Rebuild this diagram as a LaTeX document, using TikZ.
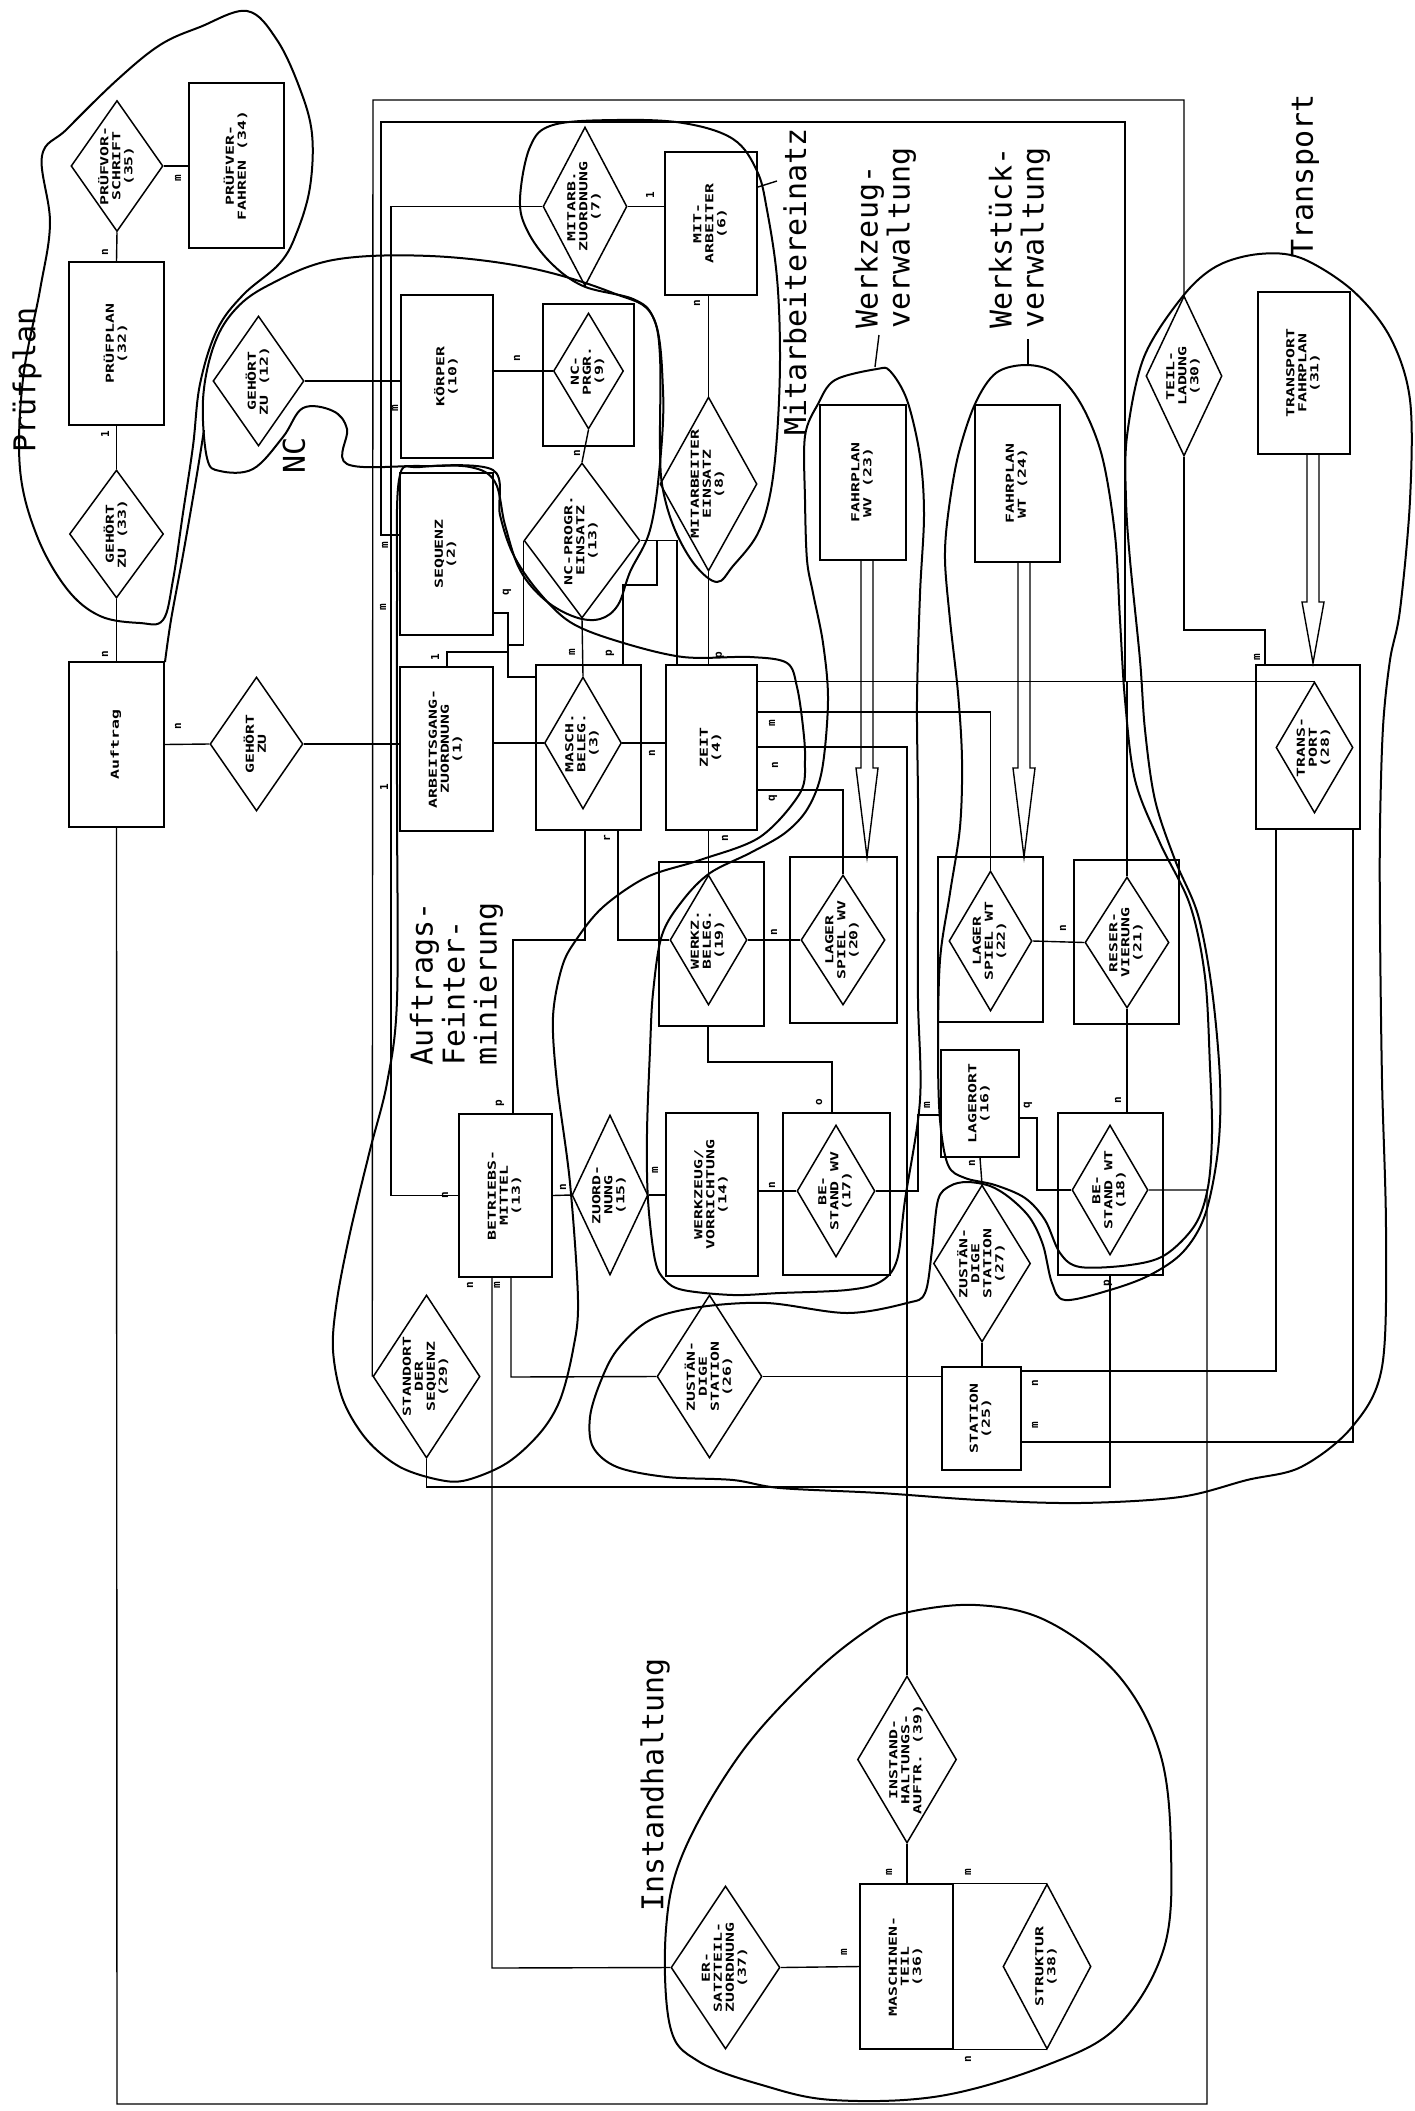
\documentclass[tikz,border=0pt]{standalone}
\usepackage{fontspec}
\usepackage{graphicx}
\usetikzlibrary{shapes.geometric,calc}
\newfontfamily\boxfont{DejaVu Sans Mono}
\newfontfamily\labfont{DejaVu Sans Mono}
\newcommand{\vt}[1]{\rotatebox{90}{\scalebox{1.5}[1]{\begin{tabular}{@{}c@{}}#1\end{tabular}}}}
\newcommand{\dblarrow}[3]{\draw[con] ($(#1 -| #2)+(-6,0)$) -- ($(#2)+(-6,-#3)$) -- ($(#2)+(-11,-#3)$) -- (#2) -- ($(#2)+(11,-#3)$) -- ($(#2)+(6,-#3)$) -- ($(#1 -| #2)+(6,0)$);}
\tikzset{
  ent/.style={draw,rectangle,inner sep=0pt,line width=1.5pt,font=\boxfont\bfseries\fontsize{11}{12}\selectfont},
  rel/.style={draw,diamond,inner sep=0pt,line width=1.5pt},
  txt/.style={inner sep=0pt,font=\boxfont\bfseries\fontsize{11}{12}\selectfont},
  card/.style={inner sep=0pt,rotate=90,font=\boxfont\bfseries\fontsize{11}{12}\selectfont},
  con/.style={line width=1.4pt},
  blob/.style={line width=2pt},
  grp/.style={inner sep=0pt,rotate=90,align=left,font=\labfont\fontsize{30}{32}\selectfont},
}

\begin{document}
\begin{tikzpicture}[x=1pt,y=-1pt]
\fill[white] (0,0) rectangle (1415,2111);
\useasboundingbox (0,0) rectangle (1415,2111);

% Pruefplan
\node[ent,minimum width=95,minimum height=165] (pverf) at (236.5,165.5) {\vt{PRÜFVER-\\FAHREN (34)}};
\node[rel,minimum width=92,minimum height=131] (pvs) at (117,166) {};
\node[txt] (pvsT) at (pvs) {\vt{PRÜFVOR-\\SCHRIFT\\(35)}};
\node[ent,minimum width=95,minimum height=163] (pplan) at (116.5,343.5) {\vt{PRÜFPLAN\\(32)}};
\node[rel,minimum width=94,minimum height=128] (gz33) at (116.5,534) {};
\node[txt] (gz33T) at (gz33) {\vt{GEHÖRT\\ZU (33)}};
\node[ent,minimum width=95,minimum height=165] (auftrag) at (116.5,744.5) {\vt{Auftrag}};
\node[rel,minimum width=93,minimum height=134] (gz) at (256.5,744) {};
\node[txt] (gzT) at (gz) {\vt{GEHÖRT\\ZU}};
\node[rel,minimum width=91,minimum height=130] (gz12) at (258.5,381) {};
\node[txt] (gz12T) at (gz12) {\vt{GEHÖRT\\ZU (12)}};

% NC, Mitarbeiter
\node[ent,minimum width=92,minimum height=163] (koerper) at (447,376.5) {\vt{KÖRPER\\(10)}};
\node[ent,minimum width=91,minimum height=142] (ncprg) at (588.5,375) {};
\node[rel,minimum width=70,minimum height=116] (ncprgD) at (588.5,371) {};
\node[txt] (ncprgT) at (ncprgD) {\vt{NC-\\PRGR.\\(9)}};
\node[rel,minimum width=116,minimum height=155] (ncein) at (582,540.5) {};
\node[txt] (nceinT) at (ncein) {\vt{NC-PROGR.\\EINSATZ\\(13)}};
\node[rel,minimum width=84,minimum height=159] (mzuord) at (585,206.5) {};
\node[txt] (mzuordT) at (mzuord) {\vt{MITARB.\\ZUORDNUNG\\(7)}};
\node[ent,minimum width=92,minimum height=143] (mitarb) at (711,223.5) {\vt{MIT-\\ARBEITER\\(6)}};
\node[rel,minimum width=97,minimum height=174] (meinsatz) at (708.5,484) {};
\node[txt] (meinsatzT) at (meinsatz) {\vt{MITARBEITER\\EINSATZ\\(8)}};

% Auftrags-Feinterminierung
\node[ent,minimum width=93,minimum height=162] (sequenz) at (446.5,554) {\vt{SEQUENZ\\(2)}};
\node[ent,minimum width=93,minimum height=164] (agz) at (446.5,749) {\vt{ARBEITSGANG-\\ZUORDNUNG\\(1)}};
\node[ent,minimum width=105,minimum height=165] (masch) at (588.5,747.5) {};
\node[rel,minimum width=77,minimum height=132] (maschD) at (583,743) {};
\node[txt] (maschT) at (maschD) {\vt{MASCH.\\BELEG.\\(3)}};
\node[ent,minimum width=91,minimum height=165] (zeit) at (711.5,747.5) {\vt{ZEIT\\(4)}};
\node[ent,minimum width=93,minimum height=163] (betr) at (505.5,1195.5) {\vt{BETRIEBS-\\MITTEL\\(13)}};
\node[rel,minimum width=76,minimum height=160] (zuord) at (610,1195) {};
\node[txt] (zuordT) at (zuord) {\vt{ZUORD-\\NUNG\\(15)}};
\node[rel,minimum width=107,minimum height=163] (standort) at (426.5,1376.5) {};
\node[txt] (standortT) at (standort) {\vt{STANDORT\\DER\\SEQUENZ\\(29)}};

% Werkzeug, Werkstueck
\node[ent,minimum width=86,minimum height=155] (fwv) at (863,482.5) {\vt{FAHRPLAN\\WV (23)}};
\node[ent,minimum width=85,minimum height=157] (fwt) at (1017.5,483.5) {\vt{FAHRPLAN\\WT (24)}};
\node[ent,minimum width=105,minimum height=164] (wbeleg) at (711.5,944) {};
\node[rel,minimum width=77,minimum height=130] (wbelegD) at (708.5,940) {};
\node[txt] (wbelegT) at (wbelegD) {\vt{WERKZ.\\BELEG.\\(19)}};
\node[ent,minimum width=107,minimum height=166] (lswv) at (843.5,940) {};
\node[rel,minimum width=84,minimum height=130] (lswvD) at (843,940) {};
\node[txt] (lswvT) at (lswvD) {\vt{LAGER\\SPIEL WV\\(20)}};
\node[ent,minimum width=105,minimum height=165] (lswt) at (990.5,939.5) {};
\node[rel,minimum width=83,minimum height=140] (lswtD) at (990.5,941) {};
\node[txt] (lswtT) at (lswtD) {\vt{LAGER\\SPIEL WT\\(22)}};
\node[ent,minimum width=105,minimum height=164] (reserv) at (1126.5,942) {};
\node[rel,minimum width=84,minimum height=131] (reservD) at (1127,942.5) {};
\node[txt] (reservT) at (reservD) {\vt{RESER-\\VIERUNG\\(21)}};
\node[ent,minimum width=92,minimum height=163] (wzv) at (712,1194.5) {\vt{WERKZEUG/\\VORRICHTUNG\\(14)}};
\node[ent,minimum width=107,minimum height=162] (bwv) at (836.5,1194) {};
\node[rel,minimum width=78,minimum height=132] (bwvD) at (836,1191) {};
\node[txt] (bwvT) at (bwvD) {\vt{BE-\\STAND WV\\(17)}};
\node[ent,minimum width=78,minimum height=107] (lort) at (980,1103.5) {\vt{LAGERORT\\(16)}};
\node[ent,minimum width=105,minimum height=162] (bwt) at (1110.5,1194) {};
\node[rel,minimum width=76,minimum height=130] (bwtD) at (1110,1190) {};
\node[txt] (bwtT) at (bwtD) {\vt{BE-\\STAND WT\\(18)}};

% Transport
\node[rel,minimum width=97,minimum height=157] (zst27) at (982,1263.5) {};
\node[txt] (zst27T) at (zst27) {\vt{ZUSTÄN-\\DIGE\\STATION\\(27)}};
\node[ent,minimum width=79,minimum height=103] (station) at (981.5,1418.5) {\vt{STATION\\(25)}};
\node[rel,minimum width=105,minimum height=163] (zst26) at (709.5,1376.5) {};
\node[txt] (zst26T) at (zst26) {\vt{ZUSTÄN-\\DIGE\\STATION\\(26)}};
\node[rel,minimum width=76,minimum height=160] (teil) at (1184,376) {};
\node[txt] (teilT) at (teil) {\vt{TEIL-\\LADUNG\\(30)}};
\node[ent,minimum width=92,minimum height=162] (tfp) at (1304,373) {\vt{TRANSPORT\\FAHRPLAN\\(31)}};
\node[ent,minimum width=104,minimum height=164] (trans) at (1308,747) {};
\node[rel,minimum width=77,minimum height=131] (transD) at (1314.5,747.5) {};
\node[txt] (transT) at (transD) {\vt{TRANS-\\PORT\\(28)}};

% Instandhaltung
\node[rel,minimum width=99,minimum height=167] (iha) at (907,1759.5) {};
\node[txt] (ihaT) at (iha) {\vt{INSTAND-\\HALTUNGS-\\AUFTR. (39)}};
\node[ent,minimum width=93,minimum height=165] (mteil) at (906.5,1966.5) {\vt{MASCHINEN-\\TEIL\\(36)}};
\node[rel,minimum width=88,minimum height=165] (strukt) at (1047,1966.5) {};
\node[txt] (struktT) at (strukt) {\vt{STRUKTUR\\(38)}};
\node[rel,minimum width=109,minimum height=163] (ersatz) at (725.5,1967.5) {};
\node[txt] (ersatzT) at (ersatz) {\vt{ER-\\SATZTEIL-\\ZUORDNUNG\\(37)}};

% junctions
\coordinate (fo1) at (373,100);
\coordinate (fo2) at (1184,100);
\coordinate (fo3) at (1265,630);
\coordinate (fi1) at (1125,122);
\coordinate (fi2) at (381,122);
\coordinate (fi3) at (381,535);
\coordinate (fm) at (391,209);
\coordinate (zB) at (990.5,712);
\coordinate (zC) at (907,747);
\coordinate (zD) at (843,790);
\coordinate (sq1) at (508,613);
\coordinate (sq2) at (508,677);
\coordinate (ag1) at (447,652);
\coordinate (ne1) at (524,645);
\coordinate (nr1) at (677,540);
\coordinate (np1) at (657,585);
\coordinate (np2) at (623,585);
\coordinate (mb1) at (585,940);
\coordinate (mb2) at (513,940);
\coordinate (mr) at (618,940);
\coordinate (wb1) at (708,1062);
\coordinate (wb2) at (832,1062);
\coordinate (lo1) at (918,1115);
\coordinate (lo2) at (1037,1118);
\coordinate (bs1) at (1110,1487);
\coordinate (bs2) at (426.5,1487);
\coordinate (ts1) at (1276,1371);
\coordinate (ts2) at (1353,1442);
\coordinate (bb1) at (492,1968);
\coordinate (bb2) at (511,1377);
\coordinate (al1) at (117,2104);
\coordinate (al2) at (1207,2104);
\coordinate (awv) at (867,857);
\coordinate (awt) at (1024,857);
\coordinate (atr) at (1313,663);

% connectors
\draw[con] (pvs.east) -- (pvs.east -| pverf.west);
\draw[con] (pvs.south) -- (pplan.north);
\draw[con] (pplan.south) -- (gz33.north);
\draw[con] (gz33.south) -- (auftrag.north);
\draw[con] (auftrag.east) -- (gz.west);
\draw[con] (gz.east) -- (gz.east -| agz.west);
\draw[con] (gz12.east) -- (gz12.east -| koerper.west);
\draw[con] (koerper.east |- ncprgD.west) -- (ncprgD.west);
\draw[con] (ncprgD.south) -- (ncein.north);
\draw[con] (mzuord.east) -- (mzuord.east -| mitarb.west);
\draw[con] (mitarb.south -| meinsatz.north) -- (meinsatz.north);
\draw[con] (meinsatz.south) -- (meinsatz.south |- zeit.north);
\draw[con] (ncein.south) -- (maschD.north);
\draw[con] (agz.east |- maschD.west) -- (maschD.west);
\draw[con] (maschD.east) -- (maschD.east -| zeit.west);
\draw[con] (ncein.east) -- (ncein.east -| nr1) -- (nr1 |- zeit.north);
\draw[con] (np1 |- ncein.east) -- (np1) -- (np2) -- (np2 |- masch.north);
\draw[con] (sq1 -| sequenz.east) -- (sq1) -- (sq2) -- (sq2 -| masch.west);
\draw[con] (ag1 |- agz.north) -- (ag1) -- (ag1 -| sq1);
\draw[con] (ncein.west) -- (ncein.west |- ne1) -- (ne1 -| sq1);
\draw[con] (transD.north -| zeit.east) -- (transD.north);
\draw[con] (zB -| zeit.east) -- (zB) -- (lswtD.north);
\draw[con] (zC -| zeit.east) -- (zC) -- (zC |- iha.north);
\draw[con] (zD -| zeit.east) -- (zD) -- (lswvD.north);
\draw[con] (zeit.south -| wbelegD.north) -- (wbelegD.north);
\draw[con] (mb1 |- masch.south) -- (mb1) -- (mb2) -- (mb2 |- betr.north);
\draw[con] (mr |- masch.south) -- (mr) -- (wbelegD.west);
\draw[con] (wbelegD.east) -- (lswvD.west);
\draw[con] (wb1 |- wbeleg.south) -- (wb1) -- (wb2) -- (wb2 |- bwv.north);
\draw[con] (lswtD.east) -- (reservD.west);
\draw[con] (reservD.north) -- (reservD.north |- transD.north);
\draw[con] (reservD.south) -- (reservD.south |- bwt.north);
\draw[con] (betr.east) -- (zuord.west);
\draw[con] (zuord.east) -- (zuord.east -| wzv.west);
\draw[con] (wzv.east |- bwvD.west) -- (bwvD.west);
\draw[con] (bwvD.east) -- (bwvD.east -| lo1) -- (lo1) -- (lo1 -| lort.west);
\draw[con] (lo2 -| lort.east) -- (lo2) -- (lo2 |- bwtD.west) -- (bwtD.west);
\draw[con] (lort.south) -- (zst27.north);
\draw[con] (zst27.south) -- (station.north -| zst27.south);
\draw[con] (zst26.east) -- (zst26.east -| station.west);
\draw[con] (bs1 |- bwt.south) -- (bs1) -- (bs2) -- (standort.south);
\draw[con] (ts1 |- trans.south) -- (ts1) -- (ts1 -| station.east);
\draw[con] (ts2 |- trans.south) -- (ts2) -- (ts2 -| station.east);
\draw[con] (bb1 |- betr.south) -- (bb1) -- (ersatz.west);
\draw[con] (bb2 |- betr.south) -- (bb2) -- (zst26.west);
\draw[con] (standort.west) -- (fo1) -- (fo2) -- (teil.north);
\draw[con] (teil.south) |- (fo3) -- (fo3 |- trans.north);
\draw[con] (fi1 |- transD.north) -- (fi1) -- (fi2) -- (fi3) -- (fi3 -| sequenz.west);
\draw[con] (mzuord.west) -- (mzuord.west -| fm) -- (fm |- betr.west) -- (betr.west);
\draw[con] (auftrag.south) -- (al1) -- (al2) -- (al2 |- bwtD.east) -- (bwtD.east);
\draw[con] (ersatz.east) -- (mteil.west);
\draw[con] (iha.south) -- (iha.south |- mteil.north);
\draw[con] (mteil.north east) -- (strukt.north);
\draw[con] (mteil.south east) -- (strukt.south);
\dblarrow{fwv.south}{awv}{89}
\dblarrow{fwt.south}{awt}{89}
\dblarrow{tfp.south}{atr}{61}

% cardinalities
\node[card] (k1) at (178,178) {m};
\node[card] (k2) at (105,252) {n};
\node[card] (k3) at (105,434) {1};
\node[card] (k4) at (105,654) {n};
\node[card] (k5) at (178,726) {n};
\node[card] (k6) at (384,787) {1};
\node[card] (k7) at (395,408) {m};
\node[card] (k8) at (517,358) {n};
\node[card] (k9) at (577,453) {n};
\node[card] (k10) at (650,195) {1};
\node[card] (k11) at (697,303) {n};
\node[card] (k12) at (572,652) {m};
\node[card] (k13) at (610,653) {p};
\node[card] (k14) at (507,592) {q};
\node[card] (k15) at (435,657) {1};
\node[card] (k16) at (652,753) {n};
\node[card] (k17) at (720,655) {p};
\node[card] (k18) at (772,723) {m};
\node[card] (k19) at (775,765) {n};
\node[card] (k20) at (773,798) {q};
\node[card] (k21) at (725,838) {n};
\node[card] (k22) at (607,838) {r};
\node[card] (k23) at (774,932) {n};
\node[card] (k24) at (1063,928) {n};
\node[card] (k25) at (1118,1100) {n};
\node[card] (k26) at (819,1102) {o};
\node[card] (k27) at (927,1105) {m};
\node[card] (k28) at (1028,1105) {q};
\node[card] (k29) at (972,1163) {n};
\node[card] (k30) at (1108,1283) {p};
\node[card] (k31) at (500,1103) {p};
\node[card] (k32) at (445,1195) {n};
\node[card] (k33) at (563,1187) {n};
\node[card] (k34) at (655,1170) {m};
\node[card] (k35) at (772,1185) {n};
\node[card] (k36) at (470,1285) {n};
\node[card] (k37) at (497,1285) {m};
\node[card] (k38) at (1035,1383) {n};
\node[card] (k39) at (1035,1425) {m};
\node[card] (k40) at (1257,657) {m};
\node[card] (k41) at (889,1872) {m};
\node[card] (k42) at (968,1872) {m};
\node[card] (k43) at (968,2059) {n};
\node[card] (k44) at (844,1952) {m};
\node[card] (k45) at (385,545) {m};
\node[card] (k46) at (383,607) {m};

% groups
\draw[blob] plot[smooth cycle,tension=0.6] coordinates {(42,156) (67,129) (117,80) (160,45) (200,27) (247,11) (277,40) (300,89) (312,134) (310,187) (297,232) (280,263) (243,295) (217,330) (200,384) (193,446) (183,513) (173,580) (163,620) (140,623) (100,616) (67,589) (37,536) (20,469) (23,379) (40,290) (50,223)};
\draw[blob] plot[smooth cycle,tension=0.6] coordinates {(207,458) (203,400) (213,348) (233,312) (267,286) (333,260) (430,256) (530,268) (613,293) (653,317) (663,390) (660,463) (650,530) (630,572) (618,605) (600,619) (575,617) (545,600) (520,570) (505,525) (495,482) (470,467) (420,466) (347,464) (347,429) (333,411) (303,408) (283,437) (253,469) (220,471)};
\draw[blob] plot[smooth,tension=0.6] coordinates {(204,430) (196,480) (183,555) (171,620) (165,662)};
\draw[blob] plot[smooth cycle,tension=0.6] coordinates {(553,125) (617,120) (683,123) (733,139) (757,171) (767,210) (777,278) (780,357) (777,436) (770,495) (757,535) (733,566) (717,582) (695,565) (675,530) (663,490) (660,450) (660,357) (653,317) (633,299) (583,286) (550,262) (527,230) (520,199) (530,147)};
\draw[blob] plot[smooth cycle,tension=0.55] coordinates {(397,1000) (397,800) (397,600) (399,480) (420,467) (493,470) (500,515) (513,554) (537,590) (570,622) (617,641) (683,657) (750,657) (787,663) (797,687) (803,727) (805,760) (800,793) (760,837) (700,860) (647,877) (603,907) (576,940) (562,967) (553,1017) (557,1083) (570,1183) (578,1300) (573,1350) (560,1400) (540,1433) (507,1463) (467,1480) (440,1480) (400,1467) (367,1440) (343,1400) (333,1350) (337,1300) (350,1233) (370,1150) (387,1083)};
\draw[blob] plot[smooth cycle,tension=0.55] coordinates {(805,436) (818,404) (835,380) (877,369) (890,371) (907,400) (920,456) (924,515) (920,594) (917,700) (918,800) (918,900) (918,1000) (920,1100) (905,1200) (897,1260) (880,1282) (847,1290) (780,1293) (733,1295) (683,1290) (665,1280) (655,1260) (648,1200) (647,1133) (650,1050) (653,993) (662,935) (683,900) (710,873) (750,853) (785,833) (808,808) (822,770) (828,700) (823,643) (813,593) (807,560) (805,500)};
\draw[blob] plot[smooth cycle,tension=0.55] coordinates {(958,456) (975,404) (996,373) (1026,365) (1055,373) (1081,404) (1102,456) (1115,535) (1120,620) (1125,700) (1135,780) (1160,843) (1190,905) (1205,977) (1210,1067) (1212,1133) (1208,1187) (1195,1225) (1165,1255) (1130,1265) (1080,1267) (1060,1253) (1045,1220) (1025,1198) (995,1185) (965,1178) (948,1165) (940,1120) (938,1050) (940,960) (950,893) (960,827) (962,760) (958,693) (950,620) (945,560) (948,515)};
\draw[blob] plot[smooth cycle,tension=0.55] coordinates {(1127,436) (1144,357) (1183,296) (1217,266) (1259,254) (1301,258) (1352,290) (1390,337) (1410,400) (1410,500) (1400,610) (1390,660) (1383,727) (1380,827) (1380,927) (1382,1080) (1386,1233) (1382,1367) (1352,1427) (1301,1467) (1247,1480) (1180,1497) (1080,1503) (980,1500) (880,1493) (780,1488) (733,1480) (667,1477) (617,1467) (593,1447) (590,1417) (600,1383) (617,1350) (650,1320) (700,1307) (767,1303) (847,1313) (907,1303) (925,1293) (932,1250) (938,1200) (950,1186) (967,1182) (990,1186) (1010,1198) (1030,1218) (1043,1245) (1052,1283) (1065,1300) (1110,1290) (1150,1275) (1183,1252) (1205,1215) (1218,1150) (1220,1080) (1212,990) (1198,915) (1175,860) (1155,800) (1145,730) (1140,660) (1130,560) (1126,500)};
\draw[blob] plot[smooth cycle,tension=0.6] coordinates {(904,1613) (976,1605) (1047,1621) (1118,1675) (1160,1753) (1171,1851) (1164,1948) (1118,2026) (1047,2065) (940,2096) (833,2100) (762,2085) (698,2061) (670,2026) (666,1929) (684,1851) (741,1753) (812,1675) (869,1629)};

% group names
\node[grp] (lPruef) at (27,380) {Prüfplan};
\node[grp] (lNC) at (294,455) {NC};
\node[grp] (lMit) at (795,282) {Mitarbeitereinatz};
\node[grp] (lWzv) at (885.5,238) {Werkzeug-\\verwaltung};
\node[grp] (lWsv) at (1019.5,238) {Werkstück-\\verwaltung};
\node[grp] (lTr) at (1305,176) {Transport};
\node[grp] (lAf) at (456.5,984) {Auftrags-\\Feinter-\\minierung};
\node[grp] (lIh) at (655,1785) {Instandhaltung};
\draw[con] (777,181) -- (758,187);
\draw[con] (879,335) -- (875,367);
\draw[con] (1028,339) -- (1028,365);
\end{tikzpicture}
\end{document}
